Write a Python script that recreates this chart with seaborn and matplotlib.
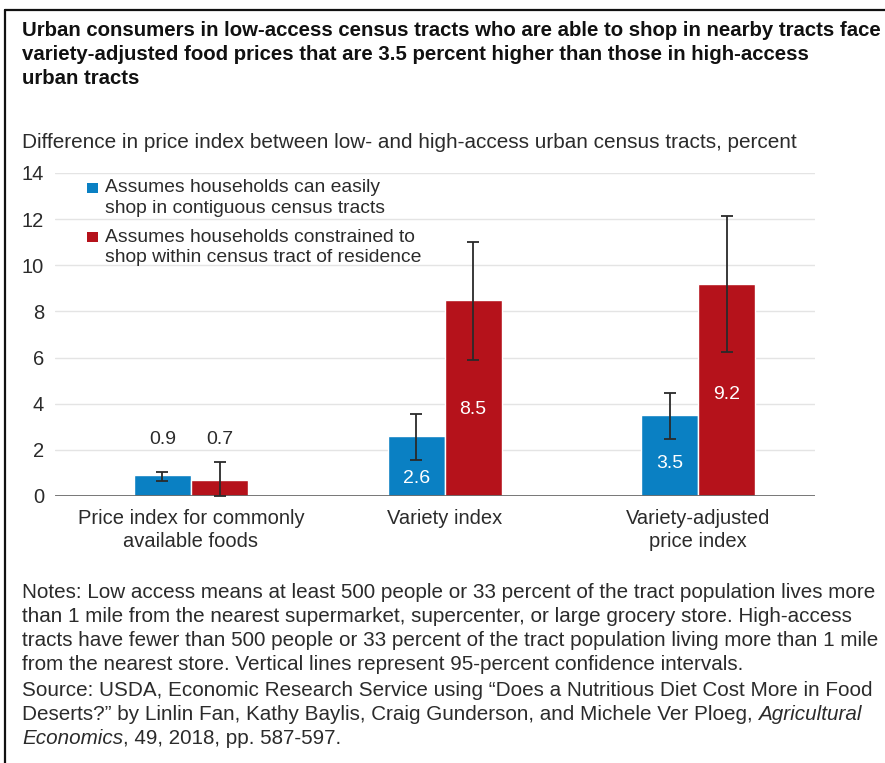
import matplotlib
matplotlib.use("Agg")
import matplotlib.pyplot as plt
from matplotlib.lines import Line2D
from matplotlib.patches import Rectangle
import seaborn as sns
import pandas as pd
import numpy as np

# ---- data ----
categories = ["Price index for commonly\navailable foods", "Variety index", "Variety-adjusted\nprice index"]
series = ["Assumes households can easily\nshop in contiguous census tracts",
          "Assumes households constrained to\nshop within census tract of residence"]
contiguous_vals = [0.9, 2.6, 3.5]
within_vals = [0.7, 8.5, 9.2]
contiguous_ci_low = [0.65, 1.56, 2.48]
contiguous_ci_high = [1.05, 3.55, 4.45]
within_ci_low = [0.0, 5.9, 6.23]
within_ci_high = [1.49, 11.02, 12.15]
yticks = [0, 2, 4, 6, 8, 10, 12, 14]

BLUE = "#0a80c3"
RED = "#b5121b"
TXT = "#2b2b2b"

W, H = 885, 763
sns.set_theme(style="white")
plt.rcParams["font.family"] = ["Liberation Sans", "DejaVu Sans"]

fig = plt.figure(figsize=(W / 100, H / 100), dpi=100)
ax = fig.add_axes([55 / W, 1 - 496 / H, (815 - 55) / W, (496 - 173) / H])

df = pd.DataFrame({
    "category": categories * 2,
    "series": [series[0]] * 3 + [series[1]] * 3,
    "value": contiguous_vals + within_vals,
})
sns.barplot(data=df, x="category", y="value", hue="series", order=categories,
            hue_order=series, palette=[BLUE, RED], width=0.45, gap=0,
            errorbar=None, saturation=1, legend=False, ax=ax, zorder=3)

ax.set_xlim(-0.536, 2.46)
ax.set_ylim(0, 14)
ax.set_yticks(yticks)
ax.set_yticklabels([str(t) for t in yticks], fontsize=14.5, color=TXT)
ax.set_xlabel("")
ax.set_ylabel("")
for s in ax.spines.values():
    s.set_visible(False)
ax.tick_params(axis="both", length=0)
ax.tick_params(axis="y", pad=8)
ax.tick_params(axis="x", pad=9)
ax.set_xticks(range(len(categories)))
ax.set_xticklabels(categories, fontsize=14.5, color=TXT, linespacing=1.32)
for y in yticks[1:]:
    ax.axhline(y, color="#e4e4e4", lw=1, zorder=1)
ax.axhline(0, color="#6a6a6a", lw=2, zorder=4)

# error bars at the bar centres
bars = ax.patches
lows = contiguous_ci_low + within_ci_low
highs = contiguous_ci_high + within_ci_high
vals = contiguous_vals + within_vals
for bar, lo, hi, v in zip(bars, lows, highs, vals):
    cx = bar.get_x() + bar.get_width() / 2
    ax.errorbar(cx, v, yerr=[[v - lo], [hi - v]], fmt="none", ecolor="#2a2a2a",
                elinewidth=1.3, capsize=4, capthick=1.3, zorder=5)

# value labels
label_y = [2.43, 0.74, 1.39, 2.43, 3.73, 4.38]
label_col = [TXT, "white", "white", TXT, "white", "white"]
for bar, v, ly, c in zip(bars, vals, label_y, label_col):
    cx = bar.get_x() + bar.get_width() / 2
    ax.text(cx, ly, f"{v:.1f}", ha="center", va="center", fontsize=14, color=c, zorder=6)

# legend
for i, (lab, col) in enumerate(zip(series, [BLUE, RED])):
    ytop = 188 + 49 * i
    fig.patches.append(Rectangle((87 / W, 1 - (ytop + 5) / H), 11 / W, 10 / H,
                                 transform=fig.transFigure, facecolor=col, edgecolor="none"))
    l1, l2 = lab.split("\n")
    fig.text(105 / W, 1 - ytop / H, l1, fontsize=13.9, color=TXT, va="center")
    fig.text(105 / W, 1 - (ytop + 20) / H, l2, fontsize=13.9, color=TXT, va="center")

renderer = fig.canvas.get_renderer()


def fit(t, target):
    w = t.get_window_extent(renderer).width
    t.set_fontsize(t.get_fontsize() * target / w)
    return t.get_fontsize()


# title
title_lines = ["Urban consumers in low-access census tracts who are able to shop in nearby tracts face",
               "variety-adjusted food prices that are 3.5 percent higher than those in high-access",
               "urban tracts"]
tfam = ["Liberation Sans Narrow", "Liberation Sans", "DejaVu Sans"]
t0 = fig.text(22 / W, 1 - 30 / H, title_lines[0], fontsize=13, fontweight="bold",
              family=tfam, color="#111111", va="center")
tsize = fit(t0, 856)
for i, line in enumerate(title_lines[1:], start=1):
    fig.text(22 / W, 1 - (30 + 24 * i) / H, line, fontsize=tsize, fontweight="bold",
             family=tfam, color="#111111", va="center")

# y-axis caption
sub = fig.text(22 / W, 1 - 143 / H,
               "Difference in price index between low- and high-access urban census tracts, percent",
               fontsize=13, color=TXT, va="center")
fit(sub, 773)

# notes
note_lines = [
    "Notes: Low access means at least 500 people or 33 percent of the tract population lives more",
    "than 1 mile from the nearest supermarket, supercenter, or large grocery store. High-access",
    "tracts have fewer than 500 people or 33 percent of the tract population living more than 1 mile",
    "from the nearest store. Vertical lines represent 95-percent confidence intervals.",
    "Source: USDA, Economic Research Service using \u201cDoes a Nutritious Diet Cost More in Food",
    "Deserts?\u201d by Linlin Fan, Kathy Baylis, Craig Gunderson, and Michele Ver Ploeg, ",
    "",
]
nfam = ["Liberation Sans Narrow", "Liberation Sans", "DejaVu Sans"]
n0 = fig.text(22 / W, 1 - 592 / H, note_lines[0], fontsize=12, family=nfam, color=TXT, va="center")
nsize = fit(n0, 856)
note_y = [592, 616, 640, 665, 690, 714, 738]
for line, y in zip(note_lines[1:], note_y[1:]):
    t = fig.text(22 / W, 1 - y / H, line, fontsize=nsize, family=nfam, color=TXT, va="center")
    if line.startswith("Deserts"):
        x_end = t.get_window_extent(renderer).x1
        fig.text(x_end / W, 1 - y / H, "Agricultural", fontsize=nsize, family=nfam,
                 style="italic", color=TXT, va="center")
it = fig.text(22 / W, 1 - 738 / H, "Economics", fontsize=nsize, family=nfam,
              style="italic", color=TXT, va="center")
x_end = it.get_window_extent(renderer).x1
fig.text(x_end / W, 1 - 738 / H, ", 49, 2018, pp. 587-597.", fontsize=nsize, family=nfam,
         color=TXT, va="center")

# frame lines
fig.add_artist(Line2D([5 / W, 5 / W], [0, 1 - 10 / H], transform=fig.transFigure,
                      color="#111111", lw=1.6))
fig.add_artist(Line2D([5 / W, 1], [1 - 10 / H, 1 - 10 / H], transform=fig.transFigure,
                      color="#111111", lw=1.6))

fig.savefig("out.png", dpi=100, facecolor="white")
